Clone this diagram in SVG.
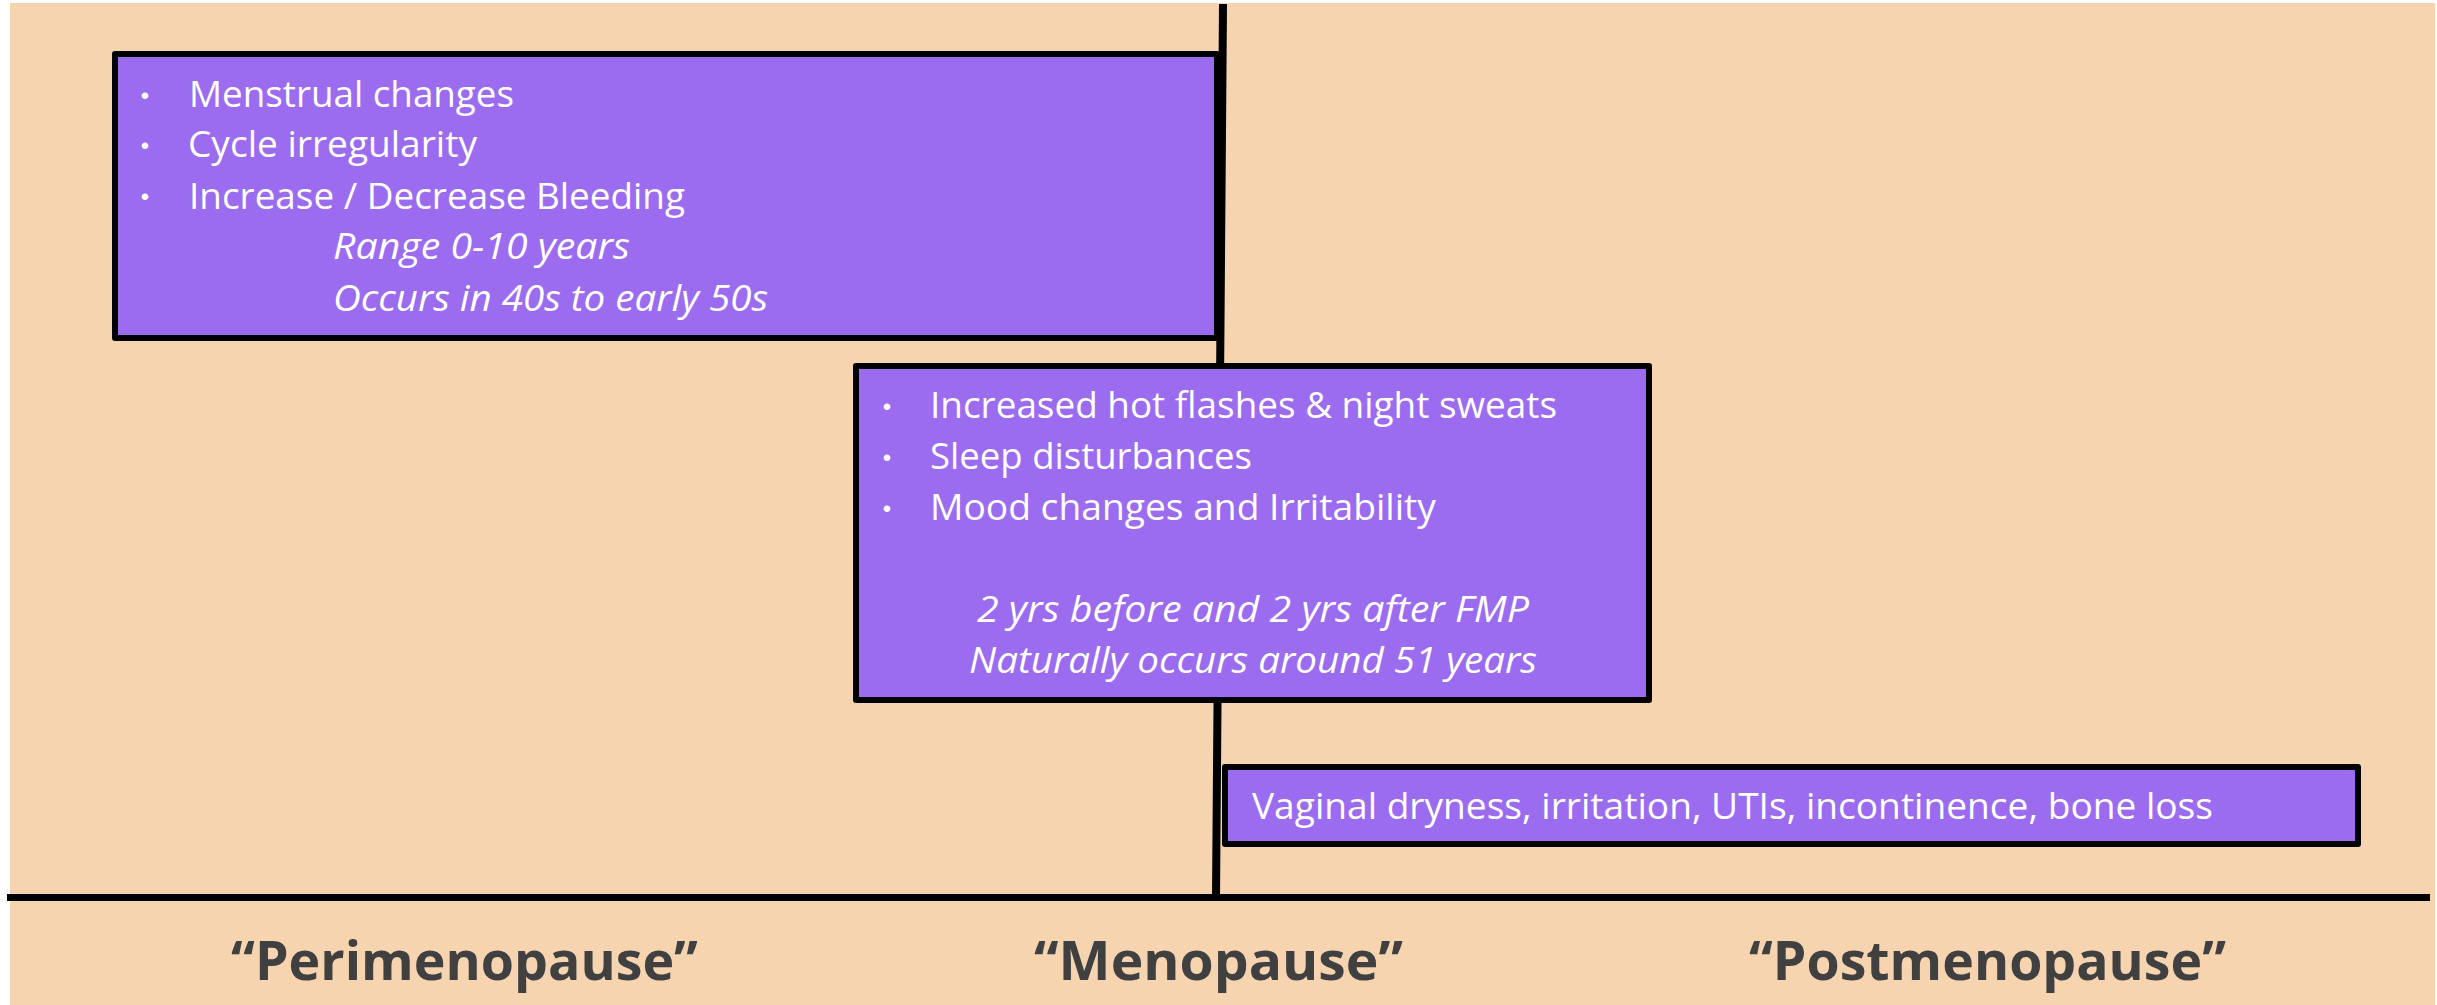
<svg xmlns="http://www.w3.org/2000/svg" width="2437" height="1005" viewBox="0 0 2437 1005">
<style>
.box{fill:#9B6CF0;stroke:#000;stroke-width:6;stroke-linejoin:round}
.t{font-family:"Open Sans","Liberation Sans",sans-serif;font-size:37px;fill:#fff}
.i{font-style:italic}
.b{font-family:"Liberation Sans",sans-serif;font-size:24px;fill:#fff;text-anchor:middle}
.lab{font-family:"Open Sans","Liberation Sans",sans-serif;font-size:54px;font-weight:bold;fill:#404040}
.ln{stroke:#000;fill:none}
</style>
<rect x="0" y="0" width="2437" height="1005" fill="#fff"/>
<rect x="10" y="3" width="2425" height="1002" fill="#F6D4B0"/>
<g id="connectors">
<line class="ln" x1="1223" y1="4" x2="1216" y2="897" stroke-width="8"/>
<line class="ln" x1="7" y1="897.5" x2="2430" y2="897.5" stroke-width="7"/>
</g>
<g id="perimenopause-box">
<rect class="box" x="115" y="54" width="1102" height="284"/>
<text class="b" x="145" y="104">•</text>
<text class="b" x="145" y="154">•</text>
<text class="b" x="145" y="205">•</text>
<text class="t" x="189" y="107" textLength="325" lengthAdjust="spacingAndGlyphs">Menstrual changes</text>
<text class="t" x="188" y="157" textLength="289" lengthAdjust="spacingAndGlyphs">Cycle irregularity</text>
<text class="t" x="189" y="209" textLength="496" lengthAdjust="spacingAndGlyphs">Increase / Decrease Bleeding</text>
<text class="t i" x="333" y="259" textLength="297" lengthAdjust="spacingAndGlyphs">Range 0-10 years</text>
<text class="t i" x="333" y="311" textLength="435" lengthAdjust="spacingAndGlyphs">Occurs in 40s to early 50s</text>
</g>
<g id="menopause-box">
<rect class="box" x="856" y="366" width="793" height="334"/>
<text class="b" x="887" y="415">•</text>
<text class="b" x="887" y="466">•</text>
<text class="b" x="887" y="517">•</text>
<text class="t" x="930" y="418" textLength="627" lengthAdjust="spacingAndGlyphs">Increased hot flashes &amp; night sweats</text>
<text class="t" x="930" y="469" textLength="322" lengthAdjust="spacingAndGlyphs">Sleep disturbances</text>
<text class="t" x="930" y="520" textLength="506" lengthAdjust="spacingAndGlyphs">Mood changes and Irritability</text>
<text class="t i" x="977" y="622" textLength="552" lengthAdjust="spacingAndGlyphs">2 yrs before and 2 yrs after FMP</text>
<text class="t i" x="969" y="673" textLength="568" lengthAdjust="spacingAndGlyphs">Naturally occurs around 51 years</text>
</g>
<g id="postmenopause-box">
<rect class="box" x="1225" y="767" width="1133" height="77"/>
<text class="t" x="1252" y="819" textLength="961" lengthAdjust="spacingAndGlyphs">Vaginal dryness, irritation, UTIs, incontinence, bone loss</text>
</g>
<g id="label-perimenopause">
<text class="lab" x="231" y="980" textLength="467" lengthAdjust="spacingAndGlyphs">“Perimenopause”</text>
</g>
<g id="label-menopause">
<text class="lab" x="1034" y="980" textLength="369" lengthAdjust="spacingAndGlyphs">“Menopause”</text>
</g>
<g id="label-postmenopause">
<text class="lab" x="1749" y="980" textLength="477" lengthAdjust="spacingAndGlyphs">“Postmenopause”</text>
</g>
</svg>
